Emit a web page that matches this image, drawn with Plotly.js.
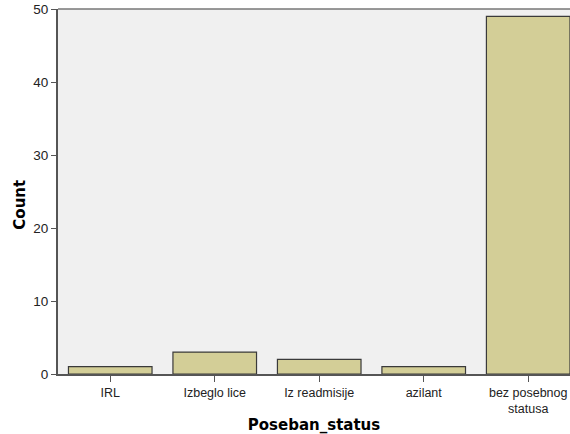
<!DOCTYPE html>
<html><head><meta charset="utf-8">
<script src="https://cdn.plot.ly/plotly-3.0.1.min.js"></script>
<style>html,body{margin:0;padding:0;background:#fff;}</style>
</head><body>
<div id="chart" style="width:570px;height:434px;"></div>
<script>
const categories = ["IRL", "Izbeglo lice", "Iz readmisije", "azilant", "bez posebnog<br>statusa"];
const counts = [1, 3, 2, 1, 49];
const yTicks = [0, 10, 20, 30, 40, 50];

const trace = {
  type: "bar",
  x: categories,
  y: counts,
  width: 0.8,
  marker: {color: "#D3CE97", line: {color: "#3a3a3a", width: 1.2}},
  hoverinfo: "x+y"
};

const layout = {
  width: 570, height: 434,
  margin: {l: 58, r: 0, t: 9, b: 59.5},
  paper_bgcolor: "#ffffff",
  plot_bgcolor: "#F0F0F0",
  font: {family: "Liberation Sans, Arial, sans-serif", size: 12, color: "#222"},
  showlegend: false,
  bargap: 0.2,
  xaxis: {
    type: "category",
    range: [-0.5, 4.4],
    showgrid: false, zeroline: false,
    showline: true, linecolor: "#555", linewidth: 1.5,
    ticks: "outside", ticklen: 6, tickcolor: "#555", tickwidth: 1,
    tickfont: {size: 12.5, color: "#222"},
    title: {text: "Poseban_status", font: {family: "DejaVu Sans, sans-serif", size: 15, color: "#000", weight: "bold"}, standoff: 11}
  },
  yaxis: {
    range: [0, 50],
    tickvals: yTicks,
    showgrid: false, zeroline: false,
    showline: true, linecolor: "#555", linewidth: 2,
    ticks: "outside", ticklen: 5, tickcolor: "#555", tickwidth: 1,
    tickfont: {size: 13.5, color: "#222"}
  },
  annotations: [{
    text: "Count", xref: "paper", yref: "paper",
    x: -0.0742, y: 0.464, xanchor: "center", yanchor: "middle",
    textangle: -90, showarrow: false,
    font: {family: "DejaVu Sans, sans-serif", size: 15, color: "#000", weight: "bold"}
  }],
  shapes: [{
    type: "line", xref: "paper", yref: "paper", x0: 0, x1: 1, y0: 1, y1: 1,
    line: {color: "#777", width: 1.5}
  }]
};

Plotly.newPlot("chart", [trace], layout, {displayModeBar: false, staticPlot: true});
</script>
</body></html>
